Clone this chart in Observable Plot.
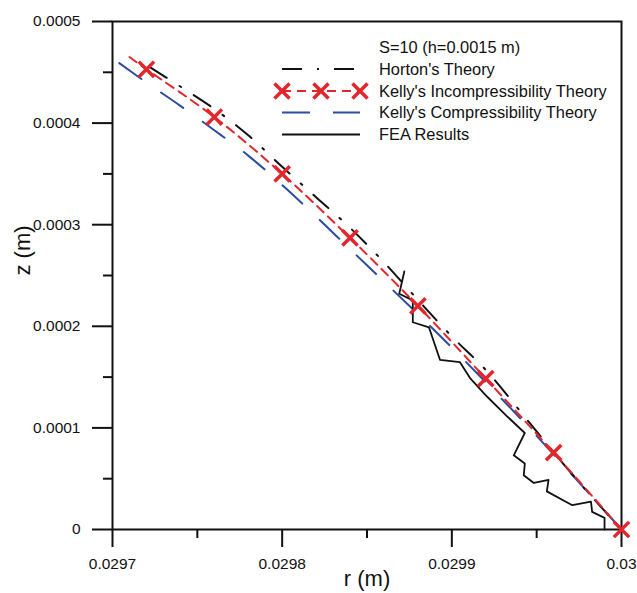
<!DOCTYPE html>
<html>
<head>
<meta charset="utf-8">
<script src="https://cdn.jsdelivr.net/npm/d3@7"></script>
<script src="https://cdn.jsdelivr.net/npm/@observablehq/plot@0.6"></script>
<style>
  html, body { margin: 0; padding: 0; background: #fff; }
  #chart { width: 637px; height: 593px; }
</style>
</head>
<body>
<div id="chart"></div>
<script>
// ---- data ----
const xMajor = [0.0297, 0.0298, 0.0299, 0.03];
const xTickLabels = ["0.0297", "0.0298", "0.0299", "0.03"];
const xMinor = [0.02975, 0.02985, 0.02995];
const yMajor = [0, 0.0001, 0.0002, 0.0003, 0.0004, 0.0005];
const yTickLabels = ["0", "0.0001", "0.0002", "0.0003", "0.0004", "0.0005"];
const yMinor = [0.00005, 0.00015, 0.00025, 0.00035, 0.00045];

const hortonR = [0.029722, 0.02974, 0.02976, 0.02978, 0.0298, 0.02982, 0.02984, 0.02986, 0.02988, 0.0299, 0.02992, 0.02994, 0.02996, 0.02998, 0.03];
const hortonZ = [0.000455, 0.000436, 0.000414, 0.000388, 0.000357, 0.000327, 0.000297, 0.000263, 0.000226, 0.00019, 0.000157, 0.000117, 0.000076, 0.000037, 0];

const kellyIncR = [0.02971, 0.02972, 0.02976, 0.0298, 0.02984, 0.02988, 0.02992, 0.02996, 0.03];
const kellyIncZ = [0.000465, 0.000453, 0.000406, 0.00035, 0.000287, 0.00022, 0.0001485, 0.0000757, 0];

const kellyCompR = [0.029704, 0.02972, 0.02974, 0.02976, 0.02978, 0.0298, 0.02982, 0.02984, 0.02986, 0.02988, 0.0299, 0.02992, 0.02994, 0.02996, 0.02998, 0.03];
const kellyCompZ = [0.000459, 0.00044, 0.000417, 0.000393, 0.000368, 0.000339, 0.000308, 0.000276, 0.000244, 0.000212, 0.000179, 0.000145, 0.00011, 0.000074, 0.000037, 0];

const feaR = [0.029872, 0.029869, 0.029877, 0.029877, 0.0298865, 0.029893, 0.0299047, 0.029911, 0.029921, 0.029933, 0.029943, 0.0299365, 0.029943, 0.0299424, 0.0299483, 0.029957, 0.029956, 0.029971, 0.029982, 0.0299827, 0.02999, 0.02999];
const feaZ = [0.000254, 0.000232, 0.0002255, 0.000204, 0.000199, 0.000167, 0.0001648, 0.0001484, 0.0001304, 0.0001107, 0.000095, 0.000073, 0.0000649, 0.0000534, 0.0000458, 0.0000488, 0.0000375, 0.0000239, 0.0000275, 0.0000173, 0.0000115, 0];

const seriesNames = ["Horton's Theory", "Kelly's Incompressibility Theory", "Kelly's Compressibility Theory", "FEA Results"];
const legendTitle = "S=10 (h=0.0015 m)";

// ---- build tables ----
const toRows = (R, Z) => R.map((r, i) => ({r, z: Z[i]}));
const horton = toRows(hortonR, hortonZ);
const kellyInc = toRows(kellyIncR, kellyIncZ);
const kellyComp = toRows(kellyCompR, kellyCompZ);
const fea = toRows(feaR, feaZ);

const RED = "#e3262b", BLUE = "#2c4d9e", BLACK = "#111";
const FONT = "'Liberation Sans', Arial, sans-serif";
const lookup = (vals, labels) => d => labels[vals.findIndex(v => Math.abs(v - d) < 1e-10)];

const chart = Plot.plot({
  width: 637,
  height: 593,
  marginLeft: 112,
  marginRight: 16,
  marginTop: 21,
  marginBottom: 64,
  style: {fontFamily: FONT, fontSize: "15.5px", color: BLACK, background: "#fff", overflow: "visible"},
  x: {domain: [0.0297, 0.03]},
  y: {domain: [0, 0.0005]},
  marks: [
    Plot.axisX({ticks: xMajor, tickSize: 18, tickPadding: 10, strokeWidth: 2, tickFormat: lookup(xMajor, xTickLabels), label: null, fontSize: 15.5}),
    Plot.axisX({ticks: xMinor, tickSize: 9, strokeWidth: 2, tickFormat: () => "", label: null}),
    Plot.axisY({ticks: yMajor, tickSize: 20, tickPadding: 12, strokeWidth: 2, tickFormat: lookup(yMajor, yTickLabels), label: null, fontSize: 15.5}),
    Plot.axisY({ticks: yMinor, tickSize: 9, strokeWidth: 2, tickFormat: () => "", label: null}),
    Plot.frame({stroke: BLACK, strokeWidth: 2}),
    Plot.line(kellyComp, {x: "r", y: "z", stroke: BLUE, strokeWidth: 2, strokeDasharray: "27,24", curve: "catmull-rom"}),
    Plot.line(horton, {x: "r", y: "z", stroke: BLACK, strokeWidth: 2, strokeDasharray: "20,15,2,15", curve: "catmull-rom"}),
    Plot.line(kellyInc, {x: "r", y: "z", stroke: RED, strokeWidth: 2, strokeDasharray: "9,6", curve: "catmull-rom"}),
    Plot.line(fea, {x: "r", y: "z", stroke: BLACK, strokeWidth: 1.8}),
    Plot.dot(kellyInc.slice(1), {x: "r", y: "z", symbol: "times", r: 7, stroke: RED, strokeWidth: 3.5}),
    Plot.text(["z (m)"], {frameAnchor: "left", dx: -90, rotate: -90, fontSize: 22, fill: BLACK}),
    Plot.text(["r (m)"], {frameAnchor: "bottom", dy: 56, fontSize: 22, fill: BLACK})
  ]
});

document.getElementById("chart").appendChild(chart);
const svg = d3.select(chart);

// ---- legend (inside plot, top right) ----
const g = svg.append("g").attr("font-family", FONT).attr("font-size", 16.4).attr("fill", BLACK).attr("text-anchor", "start");
const textX = 379, x0 = 282, x1 = 360;
const rows = [47, 69, 91, 112.5, 134.5];
g.append("text").attr("x", textX).attr("y", rows[0]).attr("dy", "0.35em").text(legendTitle);
const styles = [
  {stroke: BLACK, dash: "20,15,2,15"},
  {stroke: RED, dash: "9,6"},
  {stroke: BLUE, dash: "28,23"},
  {stroke: BLACK, dash: null}
];
seriesNames.forEach((name, i) => {
  const y = rows[i + 1];
  const s = styles[i];
  g.append("line").attr("x1", x0).attr("x2", x1).attr("y1", y).attr("y2", y)
    .attr("stroke", s.stroke).attr("stroke-width", 2).attr("stroke-dasharray", s.dash);
  g.append("text").attr("x", textX).attr("y", y).attr("dy", "0.35em").text(name);
  if (i === 1) {
    const sym = d3.symbol(d3.symbolTimes, 150)();
    [x0, (x0 + x1) / 2, x1].forEach(cx => {
      g.append("path").attr("d", sym).attr("transform", `translate(${cx},${y})`)
        .attr("fill", "none").attr("stroke", RED).attr("stroke-width", 3.5);
    });
  }
});
</script>
</body>
</html>
